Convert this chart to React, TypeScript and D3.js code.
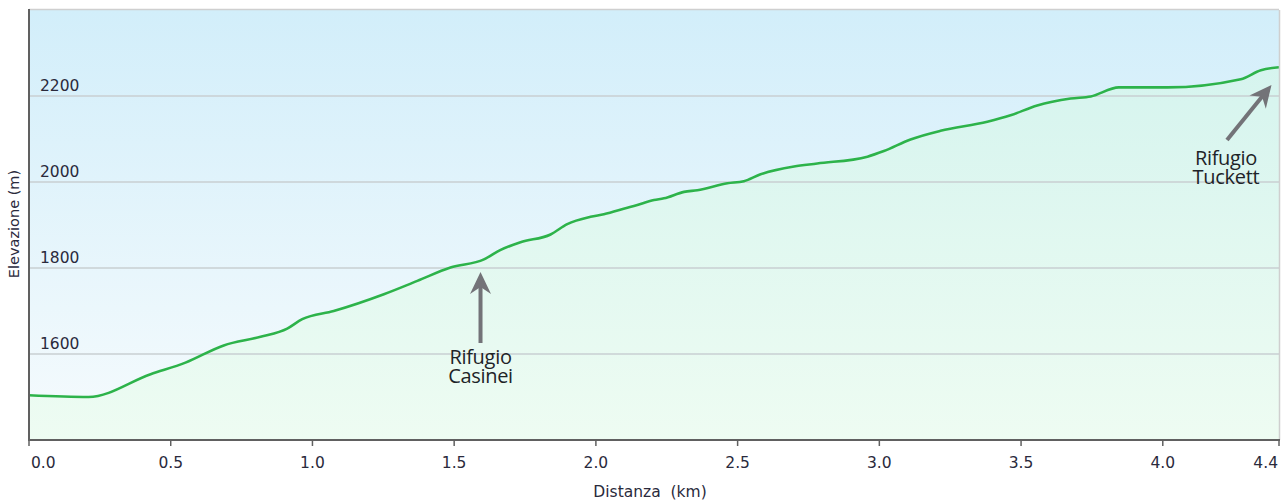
import React from "react";
import * as d3 from "d3";

const distanceKm = [0, 0.21, 0.429, 0.552, 0.687, 0.817, 0.911, 0.964, 1.075, 1.252, 1.37, 1.487, 1.605, 1.664, 1.734, 1.84, 1.899, 1.981, 2.028, 2.111, 2.134, 2.205, 2.24, 2.311, 2.358, 2.464, 2.522, 2.581, 2.699, 2.781, 2.958, 3.016, 3.11, 3.216, 3.381, 3.463, 3.557, 3.675, 3.746, 3.845, 4.016, 4.275, 4.346, 4.41];
const elevationM = [1504, 1500, 1553, 1580, 1620, 1640, 1659, 1681, 1700, 1739, 1770, 1801, 1820, 1842, 1860, 1878, 1902, 1919, 1925, 1940, 1944, 1958, 1962, 1977, 1981, 1997, 2002, 2018, 2036, 2043, 2059, 2072, 2099, 2119, 2140, 2155, 2178, 2194, 2199, 2220, 2220, 2239, 2260, 2267];
const xTicks = [0, 0.5, 1.0, 1.5, 2.0, 2.5, 3.0, 3.5, 4.0, 4.41];
const yTicks = [1600, 1800, 2000, 2200];
const annotationNames = [["Rifugio", "Casinei"], ["Rifugio", "Tuckett"]];
const annotationKm = [1.6, 4.41];

export default function App() {
  const W = 1286, H = 501;
  const left = 29, right = 1279, top = 10, bottom = 440;
  const x = d3.scaleLinear().domain([0, 4.41]).range([left, right]);
  const y = d3.scaleLinear().domain([1400, 2400]).range([bottom, top]);
  const pts = distanceKm.map((d, i) => [d, elevationM[i]] as [number, number]);
  const line = d3.line<[number, number]>().x(d => x(d[0])).y(d => y(d[1])).curve(d3.curveMonotoneX);
  const area = d3.area<[number, number]>().x(d => x(d[0])).y0(bottom).y1(d => y(d[1])).curve(d3.curveMonotoneX);
  const font = "'DejaVu Sans', Verdana, sans-serif";
  const txt = "#2a2a3c";
  const arrowCol = "#737378";

  const cx = x(annotationKm[0]) - 2;
  const cTip = 272;
  const tTip: [number, number] = [1271.5, 85];
  const tTail: [number, number] = [1227, 140];

  const arrowHead = (tip: [number, number], tail: [number, number], len = 22, half = 10.5, notch = 7) => {
    const dx = tail[0] - tip[0], dy = tail[1] - tip[1];
    const L = Math.hypot(dx, dy);
    const ux = dx / L, uy = dy / L;
    const px = -uy, py = ux;
    const b = [tip[0] + ux * len, tip[1] + uy * len];
    const n = [tip[0] + ux * (len - notch), tip[1] + uy * (len - notch)];
    return `M${tip[0]},${tip[1]} L${b[0] + px * half},${b[1] + py * half} L${n[0]},${n[1]} L${b[0] - px * half},${b[1] - py * half} Z`;
  };

  return (
    <svg width={W} height={H} style={{ position: "absolute", left: 0, top: 0, background: "#fff" }}>
      <defs>
        <linearGradient id="bg" x1="0" y1={top} x2="0" y2={bottom} gradientUnits="userSpaceOnUse">
          <stop offset="0" stopColor="#d2eefa" />
          <stop offset="1" stopColor="#f6fbfd" />
        </linearGradient>
        <linearGradient id="ar" x1="0" y1={top} x2="0" y2={bottom} gradientUnits="userSpaceOnUse">
          <stop offset="0" stopColor="#d2f3ee" />
          <stop offset="1" stopColor="#eefcf2" />
        </linearGradient>
      </defs>
      <rect x={left} y={top} width={right - left} height={bottom - top} fill="url(#bg)" />
      <path d={area(pts) || ""} fill="url(#ar)" />
      {yTicks.map(t => (
        <g key={t}>
          <line x1={left} x2={right} y1={y(t)} y2={y(t)} stroke="#c9cfd2" strokeWidth={1.5} />
          <text x={left + 11} y={y(t) - 5} fontFamily={font} fontSize={15.5} fill={txt}>{t}</text>
        </g>
      ))}
      <path d={line(pts) || ""} fill="none" stroke="#2db34a" strokeWidth={2.6} strokeLinejoin="round" />
      <line x1={left} x2={right} y1={top - 0.5} y2={top - 0.5} stroke="#cfcfcf" strokeWidth={1.5} />
      <line x1={right + 0.5} x2={right + 0.5} y1={top} y2={bottom} stroke="#cfcfcf" strokeWidth={1.5} />
      <line x1={left} x2={left} y1={top - 1} y2={bottom + 1} stroke="#606060" strokeWidth={2} />
      <line x1={left - 1} x2={right + 1} y1={bottom} y2={bottom} stroke="#606060" strokeWidth={2} />
      {xTicks.map((t, i) => (
        <g key={i}>
          <line x1={x(t)} x2={x(t)} y1={bottom} y2={bottom + 6} stroke="#606060" strokeWidth={1.5} />
          <text x={i === 0 ? x(t) + 2 : i === xTicks.length - 1 ? x(t) - 1 : x(t)} y={468} fontFamily={font} fontSize={15.5} fill={txt}
            textAnchor={i === 0 ? "start" : i === xTicks.length - 1 ? "end" : "middle"}>
            {t.toFixed(1)}
          </text>
        </g>
      ))}
      <text x={650} y={497} fontFamily={font} fontSize={15.5} fill={txt} textAnchor="middle">{"Distanza\u00a0\u00a0(km)"}</text>
      <text transform={`translate(19,224) rotate(-90)`} fontFamily={font} fontSize={14.5} fill={txt} textAnchor="middle">Elevazione (m)</text>

      <line x1={cx} x2={cx} y1={343} y2={cTip + 14} stroke={arrowCol} strokeWidth={4} />
      <path d={arrowHead([cx, cTip], [cx, 343])} fill={arrowCol} />
      <text fontFamily="'Open Sans', sans-serif" fontSize={20} fill="#1e2428" textAnchor="middle" letterSpacing={-0.3}>
        <tspan x={cx} y={364}>{annotationNames[0][0]}</tspan>
        <tspan x={cx} y={383}>{annotationNames[0][1]}</tspan>
      </text>

      <line x1={tTail[0]} y1={tTail[1]} x2={tTip[0] + (tTail[0] - tTip[0]) * 0.2} y2={tTip[1] + (tTail[1] - tTip[1]) * 0.2} stroke={arrowCol} strokeWidth={4} />
      <path d={arrowHead(tTip, tTail)} fill={arrowCol} />
      <text fontFamily="'Open Sans', sans-serif" fontSize={20} fill="#1e2428" textAnchor="middle" letterSpacing={-0.3}>
        <tspan x={1226} y={165}>{annotationNames[1][0]}</tspan>
        <tspan x={1226} y={184}>{annotationNames[1][1]}</tspan>
      </text>
    </svg>
  );
}
